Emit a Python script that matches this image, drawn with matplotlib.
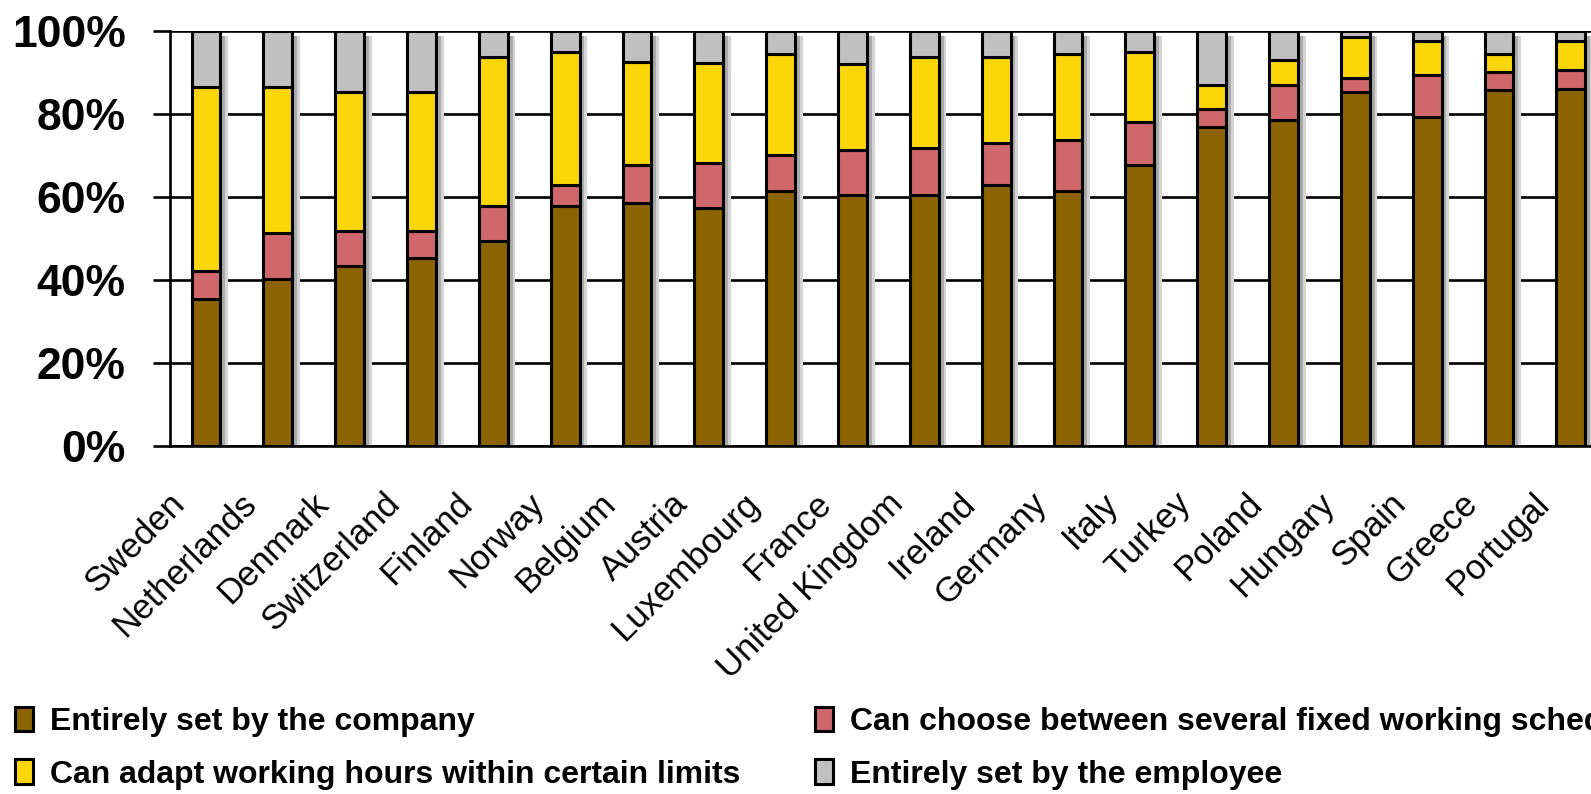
import matplotlib.pyplot as plt
import matplotlib.patheffects as pe
from matplotlib.transforms import ScaledTranslation
import numpy as np

countries = ['Sweden', 'Netherlands', 'Denmark', 'Switzerland', 'Finland', 'Norway',
             'Belgium', 'Austria', 'Luxembourg', 'France', 'United Kingdom', 'Ireland',
             'Germany', 'Italy', 'Turkey', 'Poland', 'Hungary', 'Spain', 'Greece', 'Portugal']

# shares of employees (%) by who sets working time
company = [35.6, 40.4, 43.5, 45.4, 49.6, 58.0, 58.7, 57.4, 61.6, 60.5,
           60.5, 62.9, 61.6, 67.9, 76.9, 78.7, 85.3, 79.3, 86.0, 86.1]
choose = [6.7, 11.0, 8.5, 6.6, 8.4, 5.0, 9.1, 10.9, 8.6, 11.0,
          11.5, 10.3, 12.3, 10.2, 4.3, 8.4, 3.6, 10.2, 4.2, 4.7]
adapt = [44.2, 35.1, 33.4, 33.4, 35.9, 32.0, 24.8, 24.2, 24.3, 20.6,
         21.8, 20.6, 20.6, 16.9, 6.0, 6.0, 9.8, 8.1, 4.4, 6.8]
employee = [13.5, 13.5, 14.6, 14.6, 6.1, 5.0, 7.4, 7.5, 5.5, 7.9,
            6.2, 6.2, 5.5, 5.0, 12.8, 6.9, 1.3, 2.4, 5.4, 2.4]

labels = ['Entirely set by the company',
          'Can choose between several fixed working schedules',
          'Can adapt working hours within certain limits',
          'Entirely set by the employee']
colors = ['#8B6300', '#D0676B', '#FAD50A', '#C0C0C0']
y_ticks = [0, 20, 40, 60, 80, 100]

plt.rcParams['font.family'] = ['Liberation Sans', 'DejaVu Sans']

fig = plt.figure(figsize=(15.91, 7.94), dpi=100)
ax = fig.add_axes([0.1069, 0.4377, 0.903, 0.5227])

x = np.arange(len(countries))
w = 0.40
series = [company, choose, adapt, employee]
total = np.sum(series, axis=0)

# soft drop shadow behind each stacked column
ax.bar(x, total, w, color='none', edgecolor='none', zorder=1,
       path_effects=[pe.SimplePatchShadow(offset=(5.5, -3), shadow_rgbFace='#d4d4d4', alpha=1),
                     pe.SimplePatchShadow(offset=(3.5, -3), shadow_rgbFace='#aaaaaa', alpha=1)])

bottom = np.zeros(len(x))
bars = []
for vals, col, lab in zip(series, colors, labels):
    b = ax.bar(x, vals, w, bottom=bottom, color=col, edgecolor='black',
               linewidth=2.2, label=lab, zorder=2)
    bars.append(b)
    bottom += np.array(vals)

ax.set_xlim(-0.5, len(x) - 0.5)
ax.set_ylim(0, 100)
ax.set_yticks(y_ticks)
ax.set_yticklabels([f'{v}%' for v in y_ticks], fontsize=32, fontweight='bold')
ax.yaxis.grid(True, color='black', linewidth=1.9)
ax.set_axisbelow(True)
ax.tick_params(axis='y', length=12, width=1.9, pad=20)

ax.set_xticks(x)
ax.set_xticklabels(countries, rotation=45, ha='right', va='top',
                   rotation_mode='anchor', fontsize=25)
ax.tick_params(axis='x', length=0, pad=29)
shift = ScaledTranslation(-0.38, 0, fig.dpi_scale_trans)
for t in ax.get_xticklabels():
    t.set_transform(t.get_transform() + shift)

for s in ['top', 'right']:
    ax.spines[s].set_visible(False)
for s in ['left', 'bottom']:
    ax.spines[s].set_linewidth(1.9)

leg_kw = dict(loc='center left', frameon=False,
              prop={'weight': 'bold', 'size': 23},
              handlelength=0.56, handleheight=0.8, handletextpad=0.55,
              labelspacing=0.7, borderpad=0, borderaxespad=0)
fig.legend([bars[0], bars[2]], [labels[0], labels[2]],
           bbox_to_anchor=(15 / 1591, 46 / 794), **leg_kw)
fig.legend([bars[1], bars[3]], [labels[1], labels[3]],
           bbox_to_anchor=(815 / 1591, 46 / 794), **leg_kw)

fig.savefig('out.png', dpi=100)
